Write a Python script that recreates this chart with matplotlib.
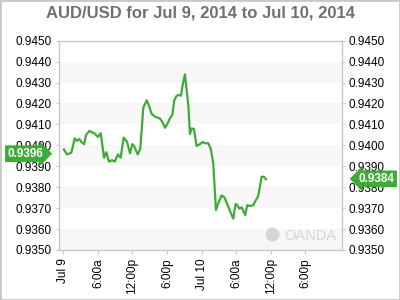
import matplotlib
matplotlib.use("Agg")
import matplotlib.pyplot as plt
from matplotlib.patches import Rectangle

plt.rcParams['font.family'] = ['Liberation Sans', 'DejaVu Sans']

# hours since Jul 9 00:00
hours = [0.1, 0.64, 1.39, 1.98, 2.32, 2.77, 3.12, 3.59, 3.94, 4.51, 5.45, 6.02,
         6.49, 7.06, 7.46, 7.92, 8.45, 8.91, 9.49, 9.95, 10.47, 11.05, 11.57,
         11.97, 12.26, 12.90, 13.35, 13.87, 14.46, 14.86, 15.33, 16.02, 16.72,
         17.17, 17.64, 18.10, 18.50, 18.90, 19.25, 19.66, 20.06, 20.41, 20.70,
         21.10, 21.68, 21.97, 22.27, 22.66, 23.13, 23.71, 24.17, 24.57, 25.14,
         25.56, 26.01, 26.48, 26.83, 27.47, 27.99, 28.61, 29.20, 29.48, 29.89,
         30.17, 30.52, 30.94, 31.21, 31.56, 31.91, 32.38, 32.95, 33.42, 33.81,
         34.11, 34.40, 34.80, 35.15]
prices = [0.93980, 0.93957, 0.93965, 0.94034, 0.94021, 0.94030, 0.94017, 0.94005,
          0.94049, 0.94069, 0.94056, 0.94040, 0.94058, 0.93941, 0.93967, 0.93922,
          0.93929, 0.93922, 0.93957, 0.93941, 0.94037, 0.94017, 0.93962, 0.94006,
          0.93997, 0.93957, 0.93983, 0.94180, 0.94215, 0.94189, 0.94150, 0.94135,
          0.94129, 0.94113, 0.94084, 0.94105, 0.94129, 0.94145, 0.94215, 0.94237,
          0.94241, 0.94237, 0.94288, 0.94339, 0.94193, 0.94054, 0.94081, 0.94078,
          0.93997, 0.94006, 0.94016, 0.94010, 0.94010, 0.93986, 0.93914, 0.93691,
          0.93720, 0.93761, 0.93750, 0.93707, 0.93667, 0.93650, 0.93720, 0.93714,
          0.93697, 0.93704, 0.93688, 0.93667, 0.93714, 0.93710, 0.93714, 0.93739,
          0.93758, 0.93802, 0.93850, 0.93850, 0.93838]

tick_hours = [0, 6, 12, 18, 24, 30, 36, 42]
tick_labels = ['Jul 9', '6:00a', '12:00p', '6:00p', 'Jul 10', '6:00a', '12:00p', '6:00p']
y_ticks = [0.9350, 0.9360, 0.9370, 0.9380, 0.9390, 0.9400, 0.9410, 0.9420, 0.9430, 0.9440, 0.9450]
open_label = '0.9396'
last_label = '0.9384'
open_val = 0.9396
last_val = 0.9384

green = '#3dab36'
border = '#c8c8c8'

fig = plt.figure(figsize=(4, 3), dpi=100)
ax = fig.add_axes([0.1468, 0.1667, 0.7075, 0.6976])

# alternating bands
for lo in y_ticks[0:-1:2]:
    ax.axhspan(lo, lo + 0.001, color='#f7f7f7', lw=0, zorder=0)

ax.plot(hours, prices, color=green, lw=1.6, zorder=3)

ax.set_xlim(-0.8, 48.3)
ax.set_ylim(0.9350, 0.9450)
ax.set_xticks(tick_hours)
ax.set_xticklabels(tick_labels, rotation=90, fontsize=8.5, color='black')
ax.set_yticks(y_ticks)
ax.set_yticklabels(['%.4f' % v for v in y_ticks], fontsize=8.5)
ax.tick_params(axis='y', which='both', left=True, right=True, labelleft=True,
               labelright=True, length=2, color=border, pad=3)
ax.tick_params(axis='x', length=3, color=border, pad=3)
for s in ax.spines.values():
    s.set_color(border)
    s.set_linewidth(1)

trans = ax.get_yaxis_transform()
ax.text(-0.055, open_val, open_label, transform=trans, ha='right', va='center',
        color='white', fontsize=8.5, fontweight='bold', clip_on=False, zorder=5,
        bbox=dict(boxstyle='rarrow,pad=0.2', fc=green, ec='none'))
ax.text(1.06, last_val, last_label, transform=trans, ha='left', va='center',
        color='white', fontsize=8.5, fontweight='bold', clip_on=False, zorder=5,
        bbox=dict(boxstyle='larrow,pad=0.2', fc=green, ec='none'))

# watermark
ax.text(0.98, 0.035, 'OANDA', transform=ax.transAxes, ha='right', va='bottom',
        fontsize=10.5, color='#d6d6d6')
ax.plot([0.755], [0.075], marker='o', ms=9, color='#d6d6d6', transform=ax.transAxes)

fig.suptitle('AUD/USD for Jul 9, 2014 to Jul 10, 2014', x=0.5, y=0.983,
             fontsize=12, fontweight='bold', color='#707070')

fig.patches.append(Rectangle((0, 0), 1, 1, transform=fig.transFigure, fill=False,
                             ec=border, lw=2))

fig.savefig('out.png', dpi=100)
